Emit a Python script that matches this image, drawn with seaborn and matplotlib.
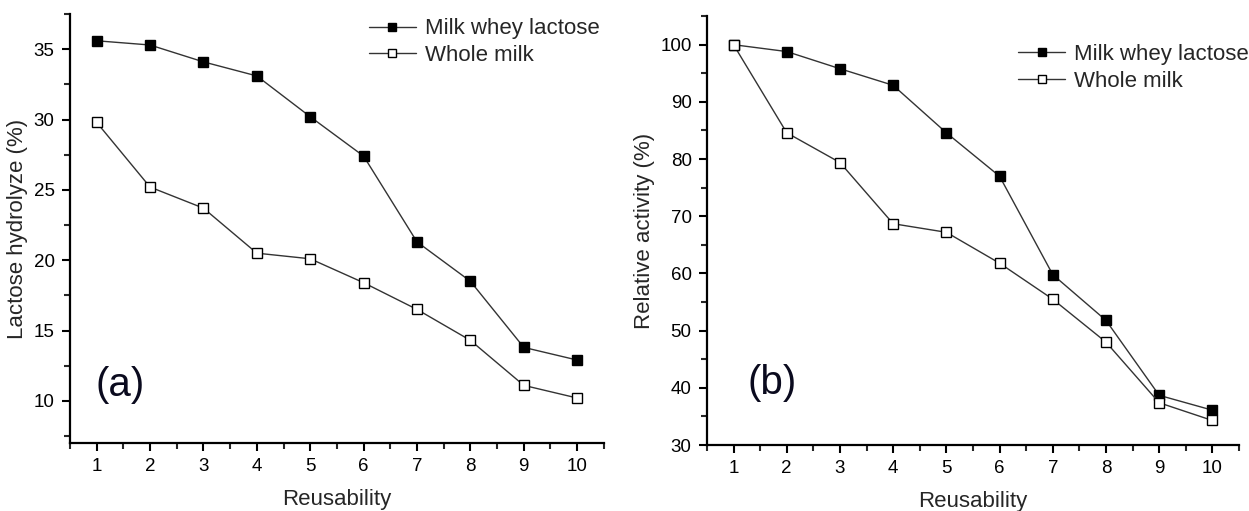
import numpy as np
import pandas as pd
import matplotlib
matplotlib.use('Agg')
import matplotlib.pyplot as plt
import seaborn as sns
from matplotlib.ticker import MultipleLocator

sns.set_style('ticks')
plt.rcParams['font.family'] = ['Liberation Sans', 'DejaVu Sans']

# 数据
reuse = [1, 2, 3, 4, 5, 6, 7, 8, 9, 10]
hydro_whey = [35.6, 35.3, 34.1, 33.1, 30.2, 27.4, 21.3, 18.5, 13.8, 12.9]
hydro_whole = [29.8, 25.2, 23.7, 20.5, 20.1, 18.4, 16.5, 14.3, 11.1, 10.2]
act_whey = [100.0, 98.8, 95.8, 92.9, 84.6, 77.0, 59.8, 51.8, 38.7, 36.1]
act_whole = [100.0, 84.6, 79.4, 68.7, 67.2, 61.8, 55.5, 48.0, 37.4, 34.3]
series_names = ['Milk whey lactose', 'Whole milk']

fig = plt.figure(figsize=(12.49, 5.11), dpi=100)
ax1 = fig.add_axes([0.056, 0.133, 0.4275, 0.8395])
ax2 = fig.add_axes([0.566, 0.129, 0.426, 0.8395])


def draw(ax, y1, y2, ylabel, ylim, major, minor, tag, tag_xy, leg_anchor):
    df = pd.DataFrame({'x': reuse, 'whey': y1, 'whole': y2})
    sns.lineplot(data=df, x='x', y='whey', ax=ax, color='#333333', lw=1,
                 marker='s', markersize=7.5, mfc='black', mec='black',
                 mew=1, label=series_names[0])
    sns.lineplot(data=df, x='x', y='whole', ax=ax, color='#333333', lw=1,
                 marker='s', markersize=7.5, mfc='white', mec='black',
                 mew=1, label=series_names[1])
    ax.set_xlim(0.5, 10.5)
    ax.set_ylim(*ylim)
    ax.xaxis.set_major_locator(MultipleLocator(1))
    ax.xaxis.set_minor_locator(MultipleLocator(0.5))
    ax.yaxis.set_major_locator(MultipleLocator(major))
    ax.yaxis.set_minor_locator(MultipleLocator(minor))
    ax.tick_params(which='major', direction='out', length=6, width=1.5,
                   labelsize=13.5, colors='black', pad=5)
    ax.tick_params(which='minor', direction='out', length=4, width=1.5)
    for s in ['top', 'right']:
        ax.spines[s].set_visible(False)
    for s in ['left', 'bottom']:
        ax.spines[s].set_linewidth(1.6)
        ax.spines[s].set_color('black')
    ax.set_xlabel('Reusability', fontsize=16, labelpad=10)
    ax.set_ylabel(ylabel, fontsize=16, labelpad=4)
    ax.text(tag_xy[0], tag_xy[1], tag, fontsize=29, color='#0a0a1e',
            va='center', ha='left')
    ax.legend(loc='upper left', bbox_to_anchor=leg_anchor, frameon=False,
              fontsize=16, handlelength=2.1, handletextpad=0.4,
              labelspacing=0.25, borderpad=0, borderaxespad=0,
              markerscale=0.75)


draw(ax1, hydro_whey, hydro_whole, 'Lactose hydrolyze (%)', (7, 37.5),
     5, 2.5, '(a)', (0.98, 11.1), (0.56, 0.99))
draw(ax2, act_whey, act_whole, 'Relative activity (%)', (30, 105),
     10, 5, '(b)', (1.27, 40.8), (0.585, 0.935))

fig.savefig('out.png', dpi=100)
